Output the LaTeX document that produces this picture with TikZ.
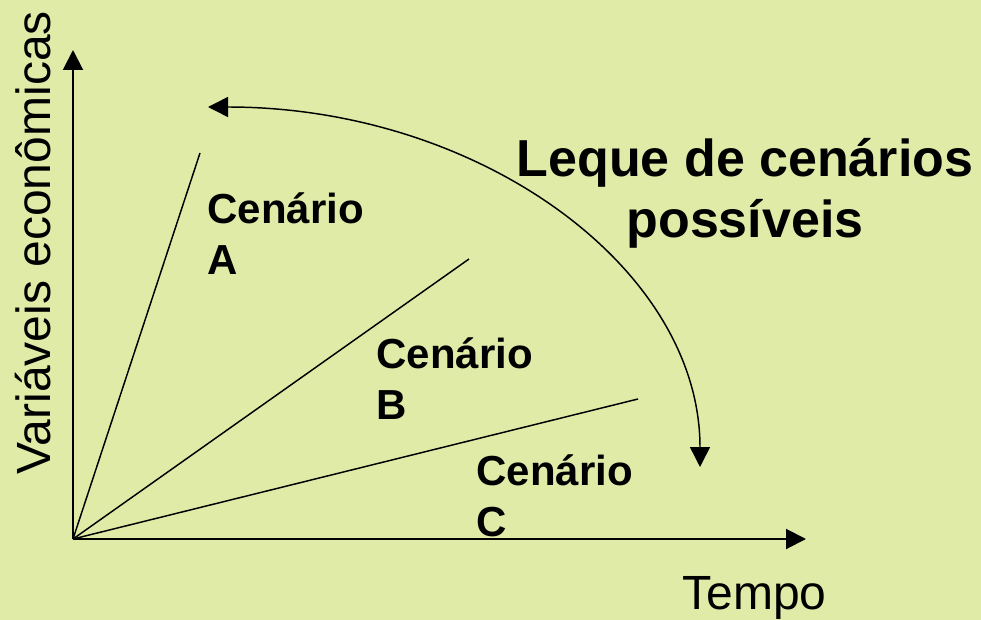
\documentclass[tikz,border=0pt]{standalone}
\usepackage{fontspec}
\setmainfont{Liberation Sans}
\usetikzlibrary{arrows.meta}
\definecolor{bgcolor}{RGB}{224,235,168}
\tikzset{every picture/.style={line width=0.75pt}}
\tikzset{
  axis/.style={line width=1.5pt,-{Triangle[length=15pt,width=15pt]}},
  scenline/.style={line width=1.1pt},
  fanarrow/.style={line width=1.1pt,{Triangle[length=15pt,width=15pt]}-{Triangle[length=15pt,width=15pt]}},
  scenlabel/.style={anchor=base west,inner sep=0pt,align=left,font=\bfseries\fontsize{31.5pt}{38.25pt}\selectfont}
}
\begin{document}
\begin{tikzpicture}[x=0.75pt,y=0.75pt,yscale=-1,xscale=1]
	\useasboundingbox (0,0) rectangle (981,620);
	\fill[bgcolor] (0,0) rectangle (981,620);
	
	% Points
	\coordinate (O) at (73,539);
	\coordinate (ytip) at (73,50);
	\coordinate (xtip) at (806,539);
	\coordinate (endA) at (200,153);
	\coordinate (endB) at (469,259);
	\coordinate (endC) at (638,399);
	\coordinate (fanlow) at (700,467);
	
	%Axes
	\draw[axis] (O) -- (ytip);
	\draw[axis] (O) -- (xtip);
	%Straight Lines
	\draw[scenline] (O) -- (endA);
	%Straight Lines
	\draw[scenline] (O) -- (endB);
	%Straight Lines
	\draw[scenline] (O) -- (endC);
	%Curve Lines
	\draw[fanarrow] (fanlow) arc[start angle=0,end angle=-90,x radius=492,y radius=360];
	
	% Text Node
	\node[scenlabel] (labA) at (207,275) {Cenário\\A};
	% Text Node
	\node[scenlabel] (labB) at (376,419) {Cenário\\B};
	% Text Node
	\node[scenlabel] (labC) at (476,536) {Cenário\\C};
	% Text Node
	\node[anchor=base,inner sep=0pt,align=center,font=\bfseries\fontsize{39pt}{45.75pt}\selectfont] (fantitle) at (745,238) {Leque de cenários\\possíveis};
	% Text Node
	\node[anchor=base west,inner sep=0pt,font=\fontsize{36pt}{43pt}\selectfont] (tempo) at (682,609) {Tempo};
	% Text Node
	\node[anchor=base west,inner sep=0pt,rotate=90,font=\fontsize{36pt}{43pt}\selectfont] (varlabel) at (50,475) {Variáveis econômicas};
\end{tikzpicture}
\end{document}
